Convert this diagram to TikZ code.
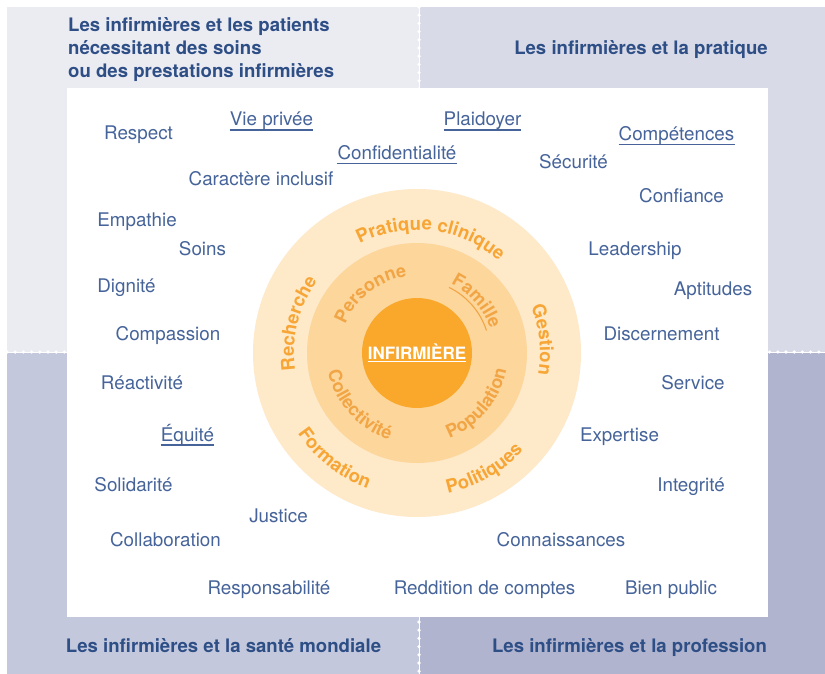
\documentclass[tikz,border=0pt]{standalone}
\usepackage{fontspec}
\setmainfont{TeX Gyre Heros}
\usetikzlibrary{decorations.text}
\definecolor{qtl}{HTML}{EBEBF2}
\definecolor{qtr}{HTML}{D9DAE7}
\definecolor{qbl}{HTML}{C3C8DC}
\definecolor{qbr}{HTML}{B0B4CF}
\definecolor{lblblue}{HTML}{46649A}
\definecolor{ttlblue}{HTML}{2E4E86}
\definecolor{ringout}{HTML}{FEE9C9}
\definecolor{ringmid}{HTML}{FDD69C}
\definecolor{ringin}{HTML}{F9A82B}
\definecolor{otxt}{HTML}{F7A535}
\definecolor{itxt}{HTML}{F2A544}
\newcommand\ringOuterFont{\fontsize{18.5}{18.5}\bfseries\selectfont\color{otxt}}
\newcommand\ringInnerFont{\fontsize{18}{18}\bfseries\selectfont\color{itxt}}
\tikzset{
  lbl/.style={font=\fontsize{18.8}{20}\selectfont, text=lblblue, anchor=base, inner sep=0pt},
  ttl/.style={font=\fontsize{18.6}{23}\bfseries\selectfont, text=ttlblue, inner sep=0pt},
  ul/.style={draw=lblblue, line width=1.1pt},
  dotline/.style={white, line width=3.6pt, line cap=round, dash pattern=on 0pt off 8.2pt},
  thinline/.style={white, line width=0.9pt},
  ringtext/.style={decorate, decoration={text along path, text align=center, text={#1}}}
}
\begin{document}
\begin{tikzpicture}[x=1pt,y=-1pt]
\useasboundingbox (0,0) rectangle (825,674);
\fill[white] (0,0) rectangle (825,674);
% quadrants
\fill[qtl] (7,7) rectangle (419,352);
\fill[qtr] (419,7) rectangle (825,352);
\fill[qbl] (7,352) rectangle (419,674);
\fill[qbr] (419,352) rectangle (825,674);
\draw[thinline] (7,352) -- (825,352);
\draw[thinline] (419,7) -- (419,674);
\draw[dotline] (7,352) -- (825,352);
\draw[dotline] (419,7) -- (419,674);
% white panel
\fill[white] (67,88) rectangle (768,617);
% titles
\node[ttl, anchor=base west] (t1a) at (68,32) {Les infirmières et les patients};
\node[ttl, anchor=base west] (t1b) at (68,55) {nécessitant des soins};
\node[ttl, anchor=base west] (t1c) at (68,78) {ou des prestations infirmières};
\node[ttl, anchor=base] (t2) at (641,55) {Les infirmières et la pratique};
\node[ttl, anchor=base] (t3) at (223.5,652) {Les infirmières et la santé mondiale};
\node[ttl, anchor=base] (t4) at (629.5,652) {Les infirmières et la profession};
% rings
\begin{scope}[shift={(417,353)}]
  \fill[ringout] (0pt,0pt) circle[radius=164pt];
  \fill[ringmid] (0pt,0pt) circle[radius=110pt];
  \fill[ringin] (0pt,0pt) circle[radius=55pt];
  % outer ring texts
  \path[ringtext={|\ringOuterFont|Pratique clinique}] (143:123pt) arc[start angle=143, end angle=23, radius=123pt];
  \path[ringtext={|\ringOuterFont|Recherche}] (226:123pt) arc[start angle=226, end angle=106, radius=123pt];
  \path[ringtext={|\ringOuterFont|Gestion}] (66:123pt) arc[start angle=66, end angle=-54, radius=123pt];
  \path[ringtext={|\ringOuterFont|Formation}] (172:144pt) arc[start angle=172, end angle=292, radius=144pt];
  \path[ringtext={|\ringOuterFont|Politiques}] (240:144pt) arc[start angle=240, end angle=360, radius=144pt];
  % inner ring texts
  \path[ringtext={|\ringInnerFont|Personne}] (188:77pt) arc[start angle=188, end angle=68, radius=77pt];
  \path[ringtext={|\ringInnerFont|Famille}] (101:77pt) arc[start angle=101, end angle=-19, radius=77pt];
  \draw[itxt, line width=1.1pt] (64:73pt) arc[start angle=64, end angle=18, radius=73pt];
  \path[ringtext={|\ringInnerFont|Collectivité}] (162:91pt) arc[start angle=162, end angle=282, radius=91pt];
  \path[ringtext={|\ringInnerFont|Population}] (260:91pt) arc[start angle=260, end angle=380, radius=91pt];
\end{scope}
\node[font=\fontsize{17}{17}\bfseries\selectfont, text=white, anchor=base, inner sep=0pt] (inf) at (417,359) {INFIRMIÈRE};
\draw[white, line width=1.2pt] ([yshift=-2.8pt]inf.base west) -- ([yshift=-2.8pt]inf.base east);
% labels
\node[lbl] (respect) at (138.5,140) {Respect};
\node[lbl] (vie) at (271.5,126) {Vie privée};
\node[lbl] (confid) at (397,159.5) {Confidentialité};
\node[lbl] (plaid) at (482.5,126) {Plaidoyer};
\node[lbl] (compet) at (676.5,140.5) {Compétences};
\node[lbl] (secur) at (573.5,168.5) {Sécurité};
\node[lbl] (caract) at (261,185.5) {Caractère inclusif};
\node[lbl] (confiance) at (681.5,202.5) {Confiance};
\node[lbl] (empathie) at (137,226.5) {Empathie};
\node[lbl] (soins) at (202.5,255) {Soins};
\node[lbl] (leader) at (635,255.5) {Leadership};
\node[lbl] (dignite) at (126.5,292) {Dignité};
\node[lbl] (aptit) at (713,295.5) {Aptitudes};
\node[lbl] (compas) at (168,340) {Compassion};
\node[lbl] (discern) at (661.5,340) {Discernement};
\node[lbl] (reactiv) at (142,389) {Réactivité};
\node[lbl] (service) at (693,389) {Service};
\node[lbl] (equite) at (187.5,441) {Équité};
\node[lbl] (expert) at (619.5,441) {Expertise};
\node[lbl] (solid) at (133.5,491) {Solidarité};
\node[lbl] (integr) at (691,491) {Integrité};
\node[lbl] (justice) at (278.5,522) {Justice};
\node[lbl] (collab) at (165.5,546) {Collaboration};
\node[lbl] (connaiss) at (561,546) {Connaissances};
\node[lbl] (respons) at (269,594) {Responsabilité};
\node[lbl] (reddit) at (484.5,594) {Reddition de comptes};
\node[lbl] (bien) at (671,594) {Bien public};
% underlines
\foreach \n in {vie,confid,plaid,compet,equite}{
  \draw[ul] ([yshift=-4pt]\n.base west) -- ([yshift=-4pt]\n.base east);
}
\end{tikzpicture}
\end{document}
